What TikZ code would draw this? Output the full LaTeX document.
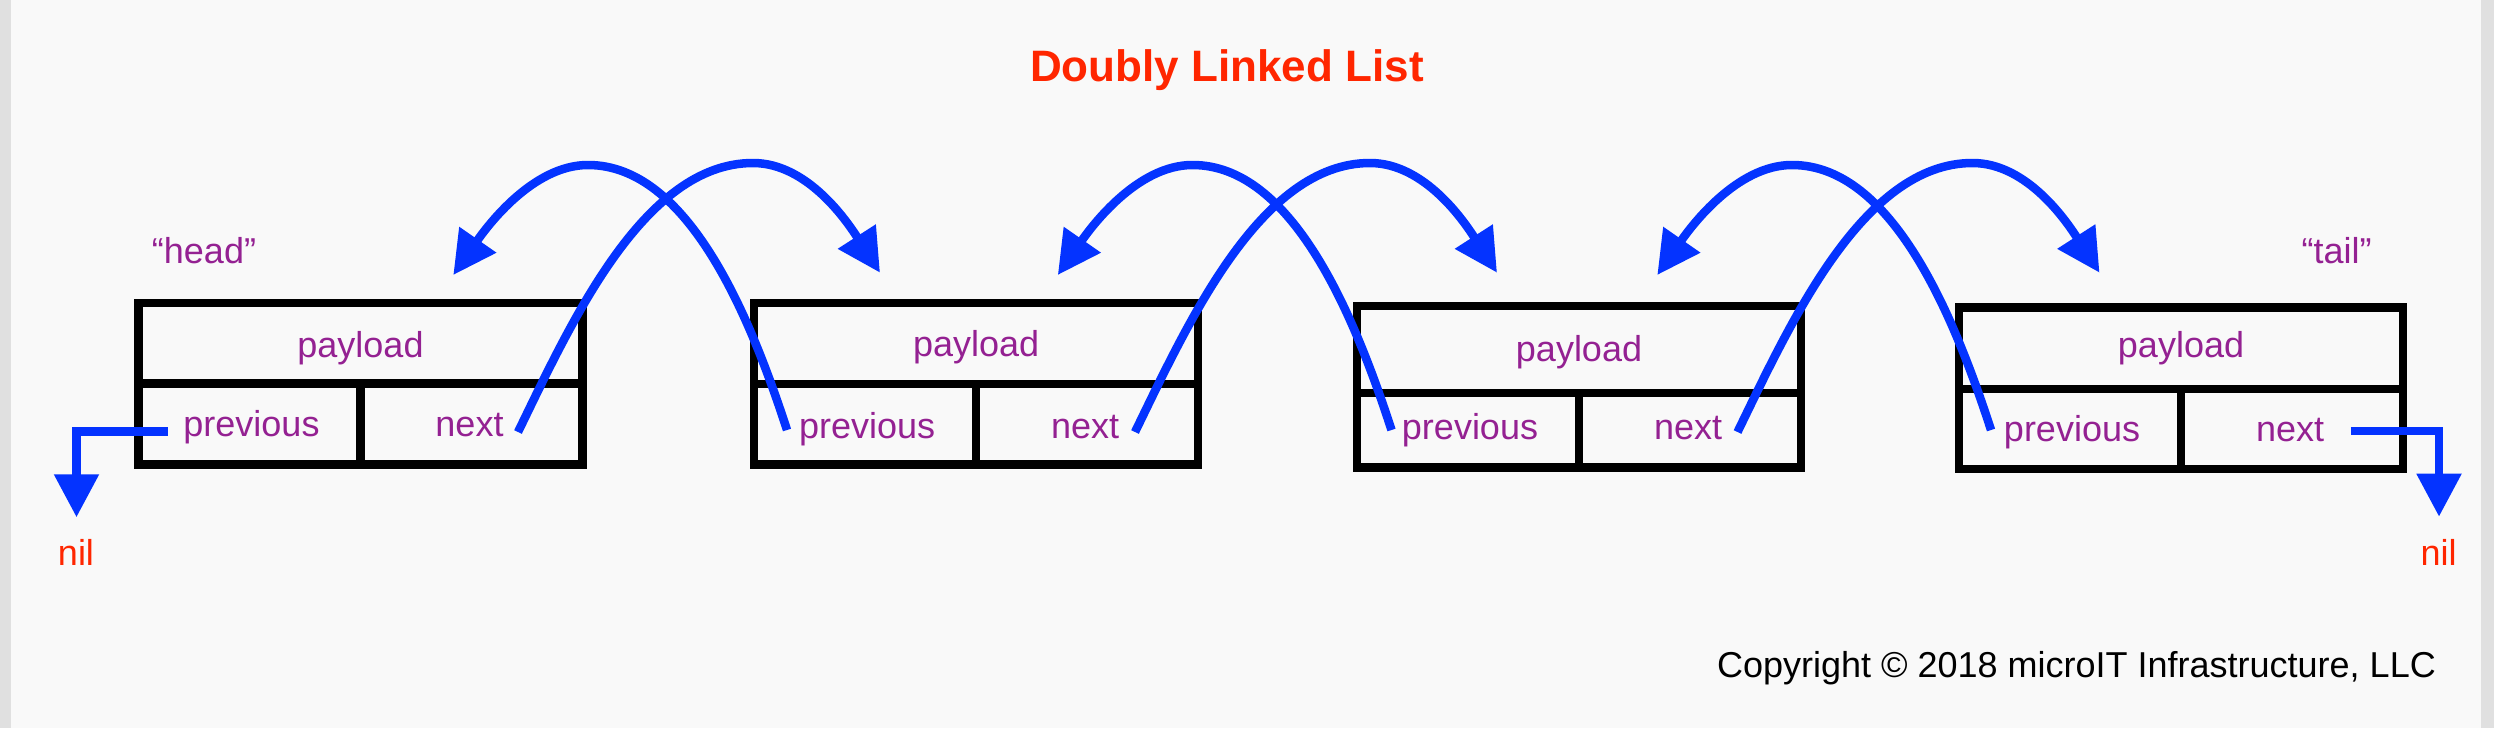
\documentclass[tikz,border=0pt]{standalone}
\usepackage{fontspec}
\setmainfont{Liberation Sans}
\usetikzlibrary{arrows.meta,calc}
\definecolor{bgc}{RGB}{249,249,249}
\definecolor{sidec}{RGB}{224,224,224}
\definecolor{plum}{RGB}{148,33,146}
\definecolor{redc}{RGB}{255,38,0}
\definecolor{bluec}{RGB}{4,51,255}
\begin{document}
\begin{tikzpicture}[x=1pt,y=1pt,
  lbl/.style={font=\fontsize{36}{40}\selectfont, text=plum, inner sep=0pt, anchor=base},
  niltext/.style={font=\fontsize{36}{40}\selectfont, text=redc, inner sep=0pt, anchor=base},
  cell/.style={draw=black, line width=8.5pt, minimum width=444pt, minimum height=161.5pt, inner sep=0pt, outer sep=0pt, anchor=north west},
  divline/.style={draw=black, line width=8.5pt},
  link/.style={draw=bluec, line width=8.5pt, line join=miter, -{Triangle[length=43pt,width=43pt]}}]
\fill[bgc] (0,0) rectangle (2494,-728);
\fill[sidec] (0,0) rectangle (11,-728);
\fill[sidec] (2481,0) rectangle (2494,-728);
\useasboundingbox (0,0) rectangle (2494,-728);

% title
\node[font=\bfseries\fontsize{44}{48}\selectfont, text=redc, anchor=base, inner sep=0pt] (title) at (1227,-81.7) {Doubly Linked List};

% boxes
\node[cell] (b1) at (138.5,-302.8) {};
\node[cell] (b2) at (754.2,-302.8) {};
\node[cell] (b3) at (1357,-305.8) {};
\node[cell] (b4) at (1959,-307.5) {};
\draw[divline] ([yshift=-80.7pt]b1.north west) -- ([yshift=-80.7pt]b1.north east);
\draw[divline] ([yshift=-80.7pt]b1.north) -- (b1.south);
\draw[divline] ([yshift=-81.4pt]b2.north west) -- ([yshift=-81.4pt]b2.north east);
\draw[divline] ([yshift=-81.4pt]b2.north) -- (b2.south);
\draw[divline] ([yshift=-87.2pt]b3.north west) -- ([yshift=-87.2pt]b3.north east);
\draw[divline] ([yshift=-87.2pt]b3.north) -- (b3.south);
\draw[divline] ([yshift=-81.7pt]b4.north west) -- ([yshift=-81.7pt]b4.north east);
\draw[divline] ([yshift=-81.7pt]b4.north) -- (b4.south);

% labels
\node[lbl] (pay1) at (360.5,-357.3) {payload};
\node[lbl] (prev1) at (251.5,-436.7) {previous};
\node[lbl] (next1) at (469.5,-436.7) {next};
\node[lbl] (pay2) at (976.2,-356.7) {payload};
\node[lbl] (prev2) at (867.2,-438.3) {previous};
\node[lbl] (next2) at (1085.2,-438.3) {next};
\node[lbl] (pay3) at (1579,-361.7) {payload};
\node[lbl] (prev3) at (1470,-439) {previous};
\node[lbl] (next3) at (1688,-439) {next};
\node[lbl] (pay4) at (2181,-357.3) {payload};
\node[lbl] (prev4) at (2072,-441.7) {previous};
\node[lbl] (next4) at (2290,-441.7) {next};

\node[lbl] (head) at (204,-263.3) {“head”};
\node[lbl] (tail) at (2336.5,-263.3) {“tail”};
\node[niltext] (nilL) at (76,-565) {nil};
\node[niltext] (nilR) at (2438.5,-565) {nil};

\node[font=\fontsize{36}{40}\selectfont, text=black, anchor=base east, inner sep=0pt] (copy) at (2436,-677.3) {Copyright © 2018 microIT Infrastructure, LLC};

% next links
\coordinate (n1a) at (518,-432);   \coordinate (n1p) at (753,-163);    \coordinate (n1t) at (880,-272.7);
\coordinate (n2a) at (1135,-432);  \coordinate (n2p) at (1370,-163);   \coordinate (n2t) at (1497,-272.7);
\coordinate (n3a) at (1737.5,-432);\coordinate (n3p) at (1972.5,-163); \coordinate (n3t) at (2099.5,-272.7);
\foreach \i in {1,2,3}{
  \draw[link] (n\i a) .. controls ($(n\i a)+(52.6,107.9)$) and ($(n\i p)+(-110,0)$) .. (n\i p)
              .. controls ($(n\i p)+(55,0)$) and ($(n\i t)+(-32.4,50.4)$) .. (n\i t);
}
% previous links
\coordinate (p2a) at (787,-430);   \coordinate (p2p) at (588,-165);    \coordinate (p2t) at (453.3,-275);
\coordinate (p3a) at (1391.5,-430);\coordinate (p3p) at (1192.5,-165); \coordinate (p3t) at (1057.8,-275);
\coordinate (p4a) at (1991,-430);  \coordinate (p4p) at (1792,-165);   \coordinate (p4t) at (1657.3,-275);
\foreach \i in {2,3,4}{
  \draw[link] (p\i a) .. controls ($(p\i a)+(-37.1,114.1)$) and ($(p\i p)+(100,0)$) .. (p\i p)
              .. controls ($(p\i p)+(-55,0)$) and ($(p\i t)+(34.3,49.3)$) .. (p\i t);
}
% nil links
\coordinate (nil1a) at (167.7,-431.5); \coordinate (nil1t) at (76.5,-517.3);
\coordinate (nil4a) at (2350.8,-431);  \coordinate (nil4t) at (2439,-516.7);
\draw[link] (nil1a) -| (nil1t);
\draw[link] (nil4a) -| (nil4t);
\end{tikzpicture}
\end{document}
